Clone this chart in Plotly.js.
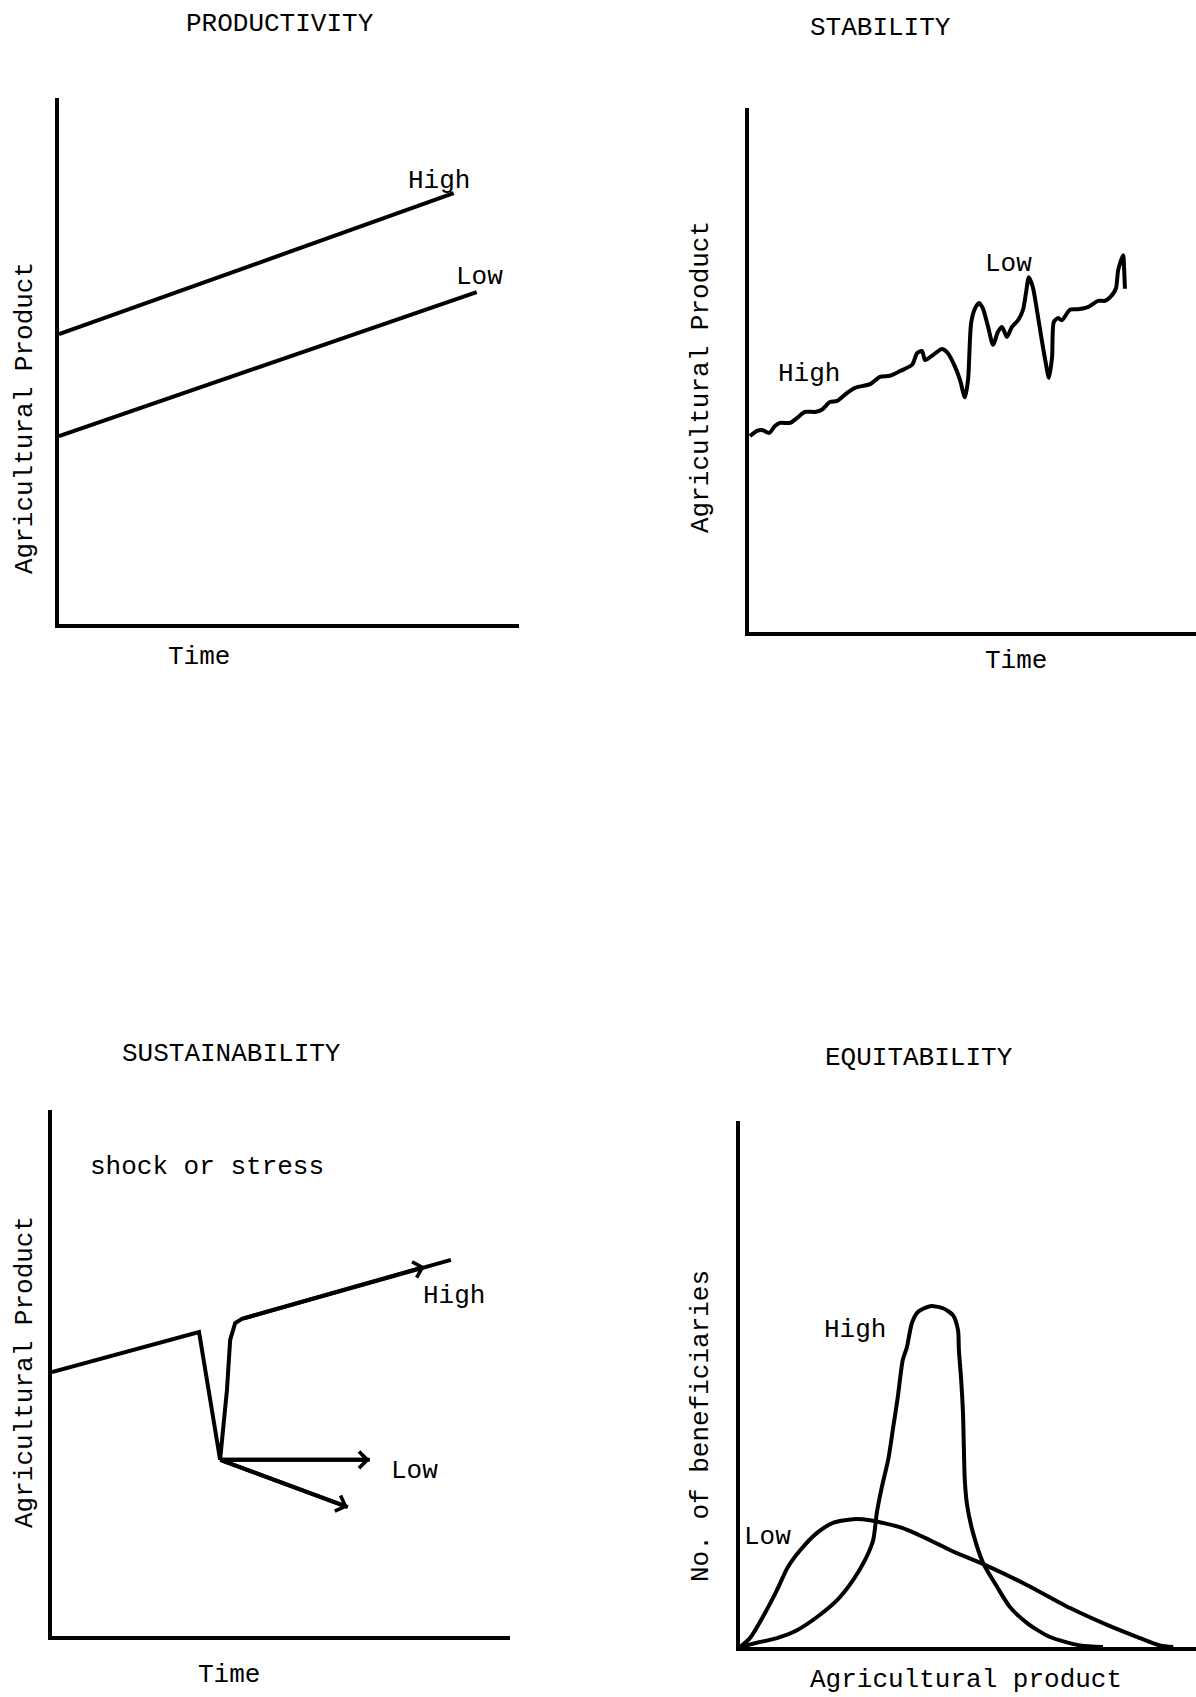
<!DOCTYPE html>
<html>
<head>
<meta charset="utf-8">
<script src="https://cdn.plot.ly/plotly-3.0.1.min.js"></script>
<style>
  html, body { margin: 0; padding: 0; background: #fff; }
  #chart { width: 1196px; height: 1697px; }
</style>
</head>
<body>
<div id="chart"></div>
<script>
// ---------------- DATA ----------------
// Panel 1: PRODUCTIVITY (time vs agricultural product)
const prodHighTime = [0, 85.8];
const prodHighValue = [55.1, 81.9];
const prodLowTime = [0, 90.8];
const prodLowValue = [35.7, 63.1];

// Panel 2: STABILITY (one curve: smooth "High" part, erratic "Low" part)
const stabTime = [0.2, 1.8, 3.1, 4.5, 5.8, 6.9, 9.2, 10.7, 12.5, 14.8, 16.3, 18.1, 19.7, 21.9, 23.7,
  27.1, 29.3, 31.5, 33.8, 36.5, 37.6, 38.7, 39.4, 40.9, 43.2, 44.5, 46.1, 47.2, 48.3, 49.0,
  49.7, 50.6, 51.5, 52.3, 53.5, 54.6, 55.7, 56.6, 57.7, 58.8, 60.2, 61.3, 62.0, 62.6, 63.5,
  64.4, 65.5, 66.4, 67.1, 67.8, 68.2, 69.1, 70.0, 71.8, 73.6, 75.8, 78.1, 79.6, 81.2, 82.1,
  82.6, 83.7, 83.9, 84.1];
const stabValue = [37.4, 38.4, 38.5, 38.0, 39.3, 39.9, 39.9, 40.8, 42.0, 42.0, 42.4, 43.9, 44.1, 45.6, 46.6,
  47.3, 48.7, 48.9, 49.8, 51.0, 53.2, 53.6, 51.9, 52.7, 54.0, 53.2, 50.6, 48.1, 44.8, 48.1,
  59.0, 61.8, 62.8, 61.8, 58.2, 54.8, 57.3, 58.2, 56.3, 58.2, 59.5, 61.5, 64.9, 67.7, 65.8,
  61.5, 55.7, 51.3, 48.5, 52.5, 59.2, 59.9, 59.5, 61.5, 61.6, 62.0, 63.2, 63.2, 64.3, 65.6,
  69.1, 71.9, 69.7, 65.5];

// Panel 3: SUSTAINABILITY (shock, then recovery "High" or decline "Low")
const sustHighTime = [0, 32.1, 36.7, 38.2, 38.9, 40.0, 41.5, 81.4, 87.1];
const sustHighValue = [50.2, 57.8, 33.5, 46.8, 56.3, 59.5, 60.3, 70.2, 71.5];
const sustHighArrowIndex = 7;
const sustLowFlatTime = [36.7, 69.4];
const sustLowFlatValue = [33.5, 33.5];
const sustLowFallTime = [36.7, 64.6];
const sustLowFallValue = [33.5, 24.5];

// Panel 4: EQUITABILITY (agricultural product vs no. of beneficiaries)
const eqHighProduct = [0, 3.7, 8.1, 12.5, 16.9, 21.3, 24.8, 27.4, 29.2, 30.0, 31.1, 32.5, 33.6, 34.6, 35.7,
  36.6, 37.7, 39.0, 41.7, 44.5, 46.7, 47.8, 48.0, 48.5, 48.9, 49.1, 49.3, 49.8, 51.1, 53.3,
  56.4, 59.2, 62.9, 68.0, 74.6, 79.6];
const eqHighCount = [0, 0.8, 1.7, 3.2, 5.7, 8.9, 12.7, 16.5, 20.3, 25.5, 30.4, 35.6, 41.8, 47.5, 54.6,
  57.0, 61.6, 63.7, 64.8, 64.4, 63.1, 60.3, 56.5, 50.8, 44.5, 37.5, 31.7, 27.0, 21.7, 16.0,
  11.4, 7.6, 4.6, 1.9, 0.3, 0];
const eqLowProduct = [0, 2.2, 5.0, 8.1, 10.5, 13.2, 16.9, 20.4, 24.8, 28.5, 35.7, 41.7, 46.1, 53.7,
  62.9, 72.4, 80.5, 87.7, 92.1, 95.0];
const eqLowCount = [0, 1.7, 5.7, 10.8, 15.2, 18.4, 21.7, 23.6, 24.3, 24.1, 22.6, 20.3, 18.4, 15.6,
  11.8, 7.4, 4.2, 1.7, 0.3, 0];

// ---------------- LAYOUT HELPERS ----------------
const W = 1196, H = 1697;
const px = x => x / W;
const py = y => 1 - y / H;
const FONT = { family: 'Liberation Mono, Courier New, monospace', size: 26, color: '#000' };
const INK = '#000';
const LW = 4;

function axis(x0, x1, anchor) {
  return {
    domain: [px(x0), px(x1)], anchor: anchor, range: [0, 100],
    showline: true, linecolor: INK, linewidth: LW, showgrid: false, zeroline: false,
    ticks: '', showticklabels: false, fixedrange: true
  };
}
function yaxis(y0, y1, anchor) {
  return {
    domain: [py(y0), py(y1)], anchor: anchor, range: [0, 100],
    showline: true, linecolor: INK, linewidth: LW, showgrid: false, zeroline: false,
    ticks: '', showticklabels: false, fixedrange: true
  };
}
function line(x, y, xa, ya, shape) {
  return {
    type: 'scatter', mode: 'lines', x: x, y: y, xaxis: xa, yaxis: ya,
    line: { color: INK, width: LW, shape: shape || 'linear', smoothing: 0.7 },
    hoverinfo: 'skip', showlegend: false
  };
}
function label(text, x, y, angle) {
  return {
    text: text, x: px(x), y: py(y), xref: 'paper', yref: 'paper',
    xanchor: 'center', yanchor: 'middle', showarrow: false,
    textangle: angle || 0, font: FONT
  };
}
function arrow(xs, ys, i0, i1, xa, ya) {
  return {
    text: '', x: xs[i1], y: ys[i1], ax: xs[i0], ay: ys[i0],
    xref: xa, yref: ya, axref: xa, ayref: ya,
    showarrow: true, arrowhead: 4, arrowsize: 0.8, arrowwidth: LW, arrowcolor: INK, standoff: 0
  };
}

const traces = [
  line(prodHighTime, prodHighValue, 'x', 'y'),
  line(prodLowTime, prodLowValue, 'x', 'y'),
  line(stabTime, stabValue, 'x2', 'y2', 'spline'),
  line(sustHighTime, sustHighValue, 'x3', 'y3'),
  line(sustLowFlatTime, sustLowFlatValue, 'x3', 'y3'),
  line(sustLowFallTime, sustLowFallValue, 'x3', 'y3'),
  line(eqHighProduct, eqHighCount, 'x4', 'y4', 'spline'),
  line(eqLowProduct, eqLowCount, 'x4', 'y4', 'spline')
];

const layout = {
  width: W, height: H,
  margin: { l: 0, r: 0, t: 0, b: 0, pad: 0 },
  paper_bgcolor: '#fff', plot_bgcolor: 'rgba(0,0,0,0)',
  showlegend: false,
  font: FONT,
  xaxis: axis(59, 519, 'y'),   yaxis: yaxis(624, 98, 'x'),
  xaxis2: axis(749, 1196, 'y2'), yaxis2: yaxis(632, 108, 'x2'),
  xaxis3: axis(52, 510, 'y3'),  yaxis3: yaxis(1636, 1110, 'x3'),
  xaxis4: axis(740, 1196, 'y4'), yaxis4: yaxis(1647, 1121, 'x4'),
  annotations: [
    // Productivity
    label('PRODUCTIVITY', 280, 24),
    label('High', 439, 181),
    label('Low', 479, 277),
    label('Agricultural Product', 25, 418, -90),
    label('Time', 199, 657),
    // Stability
    label('STABILITY', 880, 28),
    label('High', 809, 374),
    label('Low', 1008, 264),
    label('Agricultural Product', 701, 377, -90),
    label('Time', 1016, 661),
    // Sustainability
    label('SUSTAINABILITY', 231, 1054),
    label('shock or stress', 207, 1167),
    label('High', 454, 1296),
    label('Low', 414, 1471),
    label('Agricultural Product', 25, 1372, -90),
    label('Time', 229, 1675),
    arrow(sustHighTime, sustHighValue, sustHighArrowIndex - 1, sustHighArrowIndex, 'x3', 'y3'),
    arrow(sustLowFlatTime, sustLowFlatValue, 0, 1, 'x3', 'y3'),
    arrow(sustLowFallTime, sustLowFallValue, 0, 1, 'x3', 'y3'),
    // Equitability
    label('EQUITABILITY', 919, 1058),
    label('High', 855, 1330),
    label('Low', 767, 1537),
    label('No. of beneficiaries', 701, 1426, -90),
    label('Agricultural product', 966, 1680)
  ]
};

Plotly.newPlot('chart', traces, layout, { staticPlot: true, displayModeBar: false });
</script>
</body>
</html>
